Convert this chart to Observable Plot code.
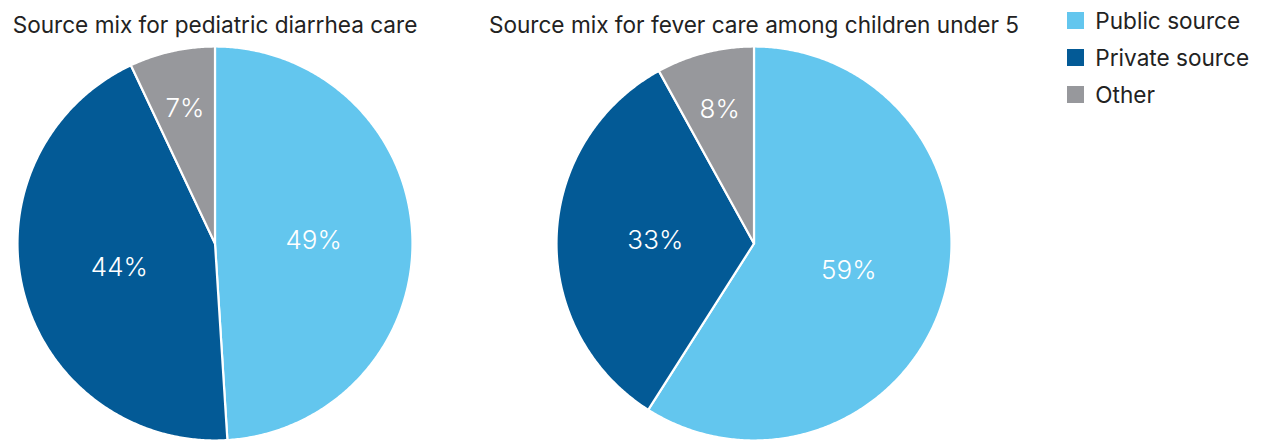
<!DOCTYPE html>
<html>
<head>
<meta charset="utf-8">
<script src="https://cdn.jsdelivr.net/npm/d3@7"></script>
<script src="https://cdn.jsdelivr.net/npm/@observablehq/plot@0.6"></script>
<style>
  html, body { margin: 0; padding: 0; background: #fff; }
  #chart { position: relative; width: 1262px; height: 442px; font-family: Inter, "Noto Sans", sans-serif; }
  #legend { position: absolute; left: 1067px; top: 7px; }
  .src-legend-swatch { padding-bottom: 10px !important; color: #222; }
</style>
</head>
<body>
<div id="chart"></div>
<script>
// Care sources, in the order the slices run clockwise from 12 o'clock
const sources = ["Public source", "Private source", "Other"];
const sourceColors = ["#63c6ee", "#035a96", "#97989c"];

// One pie per chart title
const charts = [
  "Source mix for pediatric diarrhea care",
  "Source mix for fever care among children under 5"
];
const diarrheaShares = [49, 44, 7];
const feverShares = [59, 33, 8];

const sharesByChart = [diarrheaShares, feverShares];

// Slice outlines and label anchors in unit-circle coordinates
const slicePoints = [];
const sliceLabels = [];
const pie = d3.pie().sort(null).value(d => d.share);
charts.forEach((chart, ci) => {
  const rows = sources.map((source, i) => ({chart, source, share: sharesByChart[ci][i]}));
  for (const arc of pie(rows)) {
    const {chart, source, share} = arc.data;
    const steps = Math.max(2, Math.ceil((arc.endAngle - arc.startAngle) / (Math.PI / 360)));
    slicePoints.push({chart, source, x: 0, y: 0});
    for (let k = 0; k <= steps; k++) {
      const a = arc.startAngle + (arc.endAngle - arc.startAngle) * k / steps;
      slicePoints.push({chart, source, x: Math.sin(a), y: Math.cos(a)});
    }
    slicePoints.push({chart, source, x: 0, y: 0});
    const mid = (arc.startAngle + arc.endAngle) / 2;
    const r = share < 10 ? 0.7 : 0.5;
    sliceLabels.push({chart, source, share, x: r * Math.sin(mid), y: r * Math.cos(mid)});
  }
});

const color = {domain: sources, range: sourceColors};

const plot = Plot.plot({
  width: 1262,
  height: 442,
  marginLeft: 17,
  marginRight: 311,
  marginTop: 46,
  marginBottom: 2,
  style: {fontFamily: "Inter, 'Noto Sans', sans-serif", background: "transparent"},
  fx: {domain: charts, paddingInner: 0.2672, paddingOuter: 0, round: false, label: null},
  x: {domain: [-1, 1], axis: null},
  y: {domain: [-1, 1], axis: null},
  color,
  marks: [
    Plot.axisFx({anchor: "top", tickSize: 0, tickPadding: 14, fontSize: 22.6, label: null, fill: "#222"}),
    Plot.line(slicePoints, {
      x: "x", y: "y", fx: "chart", z: "source",
      fill: "source", stroke: "white", strokeWidth: 2.2, strokeLinejoin: "round"
    }),
    Plot.text(sliceLabels, {
      x: "x", y: "y", fx: "chart",
      text: d => `${d.share}%`,
      fill: "white", fontSize: 26, fontWeight: 300
    })
  ]
});

const legend = Plot.legend({
  color,
  legend: "swatches",
  columns: 1,
  swatchSize: 17,
  className: "src-legend",
  style: {fontSize: "22.6px", fontFamily: "Inter, 'Noto Sans', sans-serif"}
});
legend.id = "legend";

const root = document.getElementById("chart");
root.appendChild(plot);
root.appendChild(legend);
</script>
</body>
</html>
